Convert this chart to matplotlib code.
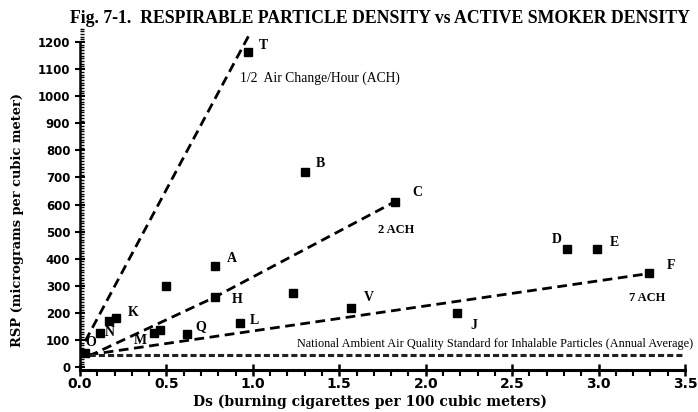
import matplotlib
matplotlib.use("Agg")
import matplotlib.pyplot as plt
from matplotlib.ticker import MultipleLocator

# measured sites (Ds, RSP)
site_x = [0.97, 1.30, 1.82, 0.78, 0.50, 0.78, 1.23, 0.17, 0.21, 0.115, 0.03,
          0.43, 0.46, 0.62, 0.925, 1.57, 2.18, 2.82, 2.99, 3.29]
site_y = [1162, 720, 610, 373, 300, 258, 272, 170, 181, 125, 50,
          125, 135, 120, 162, 218, 200, 435, 435, 347]

# site letters and where they sit
labels = ["T", "B", "C", "A", "H", "K", "N", "O", "M", "Q", "L", "V", "J", "D", "E", "F"]
label_x = [1.06, 1.39, 1.95, 0.88, 0.91, 0.31, 0.17, 0.06, 0.35, 0.70, 1.01, 1.67, 2.28, 2.76, 3.09, 3.42]
label_y = [1186, 753, 646, 402, 251, 203, 129, 89, 96, 148, 170, 258, 155, 472, 458, 376]

# air change rate lines: start and end points
ach_half_x = [0.03, 0.98]
ach_half_y = [95, 1228]
ach_2_x = [0.05, 0.78, 1.82]
ach_2_y = [40, 258, 610]
ach_7_x = [0.05, 3.29]
ach_7_y = [45, 345]

naaqs = 45

fig = plt.figure(figsize=(6.98, 4.12), dpi=100)
ax = fig.add_axes([0.1146, 0.1027, 0.8668, 0.8281])

ax.plot(ach_half_x, ach_half_y, color="black", lw=2, dashes=(3.5, 2))
ax.plot(ach_2_x, ach_2_y, color="black", lw=2, dashes=(3.5, 2))
ax.plot(ach_7_x, ach_7_y, color="black", lw=2, dashes=(3.5, 2))
ax.axhline(naaqs, color="#222222", lw=2.2, ls=(0, (2, 1)))

ax.plot(site_x, site_y, "s", color="black", ms=5.3, ls="none")

serif = "Liberation Serif"
for lab, lx, ly in zip(labels, label_x, label_y):
    ax.text(lx, ly, lab, family=serif, weight="bold", fontsize=10,
            ha="center", va="center")

ax.text(0.925, 1066, "1/2  Air Change/Hour (ACH)", family=serif, fontsize=9.8,
        ha="left", va="center")
ax.text(1.83, 505, "2 ACH", family=serif, weight="bold", fontsize=9,
        ha="center", va="center")
ax.text(3.28, 255, "7 ACH", family=serif, weight="bold", fontsize=9,
        ha="center", va="center")
ax.text(2.4, 85, "National Ambient Air Quality Standard for Inhalable Particles (Annual Average)",
        family=serif, fontsize=8.8, ha="center", va="center")

ax.set_xlim(0, 3.5)
ax.set_ylim(-10, 1250)
ax.spines["top"].set_visible(False)
ax.spines["right"].set_visible(False)
ax.spines["left"].set_bounds(-10, 1200)
ax.spines["left"].set_linewidth(1.8)
ax.spines["bottom"].set_linewidth(2.2)

ax.xaxis.set_major_locator(MultipleLocator(0.5))
ax.xaxis.set_minor_locator(MultipleLocator(0.1))
ax.yaxis.set_major_locator(MultipleLocator(100))
ax.yaxis.set_minor_locator(MultipleLocator(10))
ax.tick_params(axis="x", which="major", direction="inout", length=9, width=1.8, pad=1)
ax.tick_params(axis="x", which="minor", direction="out", length=4, width=1.5)
ax.tick_params(axis="y", which="major", direction="inout", length=7, width=1.5)
ax.tick_params(axis="y", which="minor", direction="in", length=3, width=1)

ax.set_xticks([0, 0.5, 1.0, 1.5, 2.0, 2.5, 3.0, 3.5])
ax.set_xticklabels(["0.0", "0.5", "1.0", "1.5", "2.0", "2.5", "3.0", "3.5"],
                   fontsize=10, weight="bold")
for t in ax.get_yticklabels():
    t.set_fontsize(8.5)
    t.set_fontweight("bold")

ax.set_xlabel("Ds (burning cigarettes per 100 cubic meters)", family="DejaVu Serif",
              weight="bold", fontsize=10)
ax.set_ylabel("RSP (micrograms per cubic meter)", family="DejaVu Serif",
              weight="bold", fontsize=9.4)
ax.xaxis.set_label_coords(0.479, -0.074)
ax.yaxis.set_label_coords(-0.092, 0.44)

fig.text(0.545, 0.955, "Fig. 7-1.  RESPIRABLE PARTICLE DENSITY vs ACTIVE SMOKER DENSITY",
         family=serif, weight="bold", fontsize=12.8, ha="center", va="center")

fig.savefig("out.png", dpi=100)
